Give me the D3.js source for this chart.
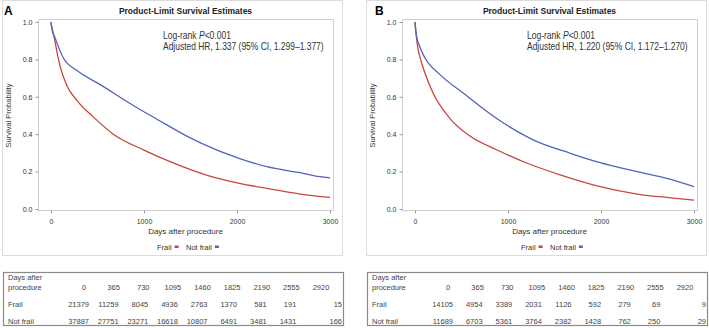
<!DOCTYPE html>
<html>
<head>
<meta charset="utf-8">
<script src="https://cdn.jsdelivr.net/npm/d3@7"></script>
<style>
  body { margin: 0; background: #fff; }
  svg { display: block; font-family: 'Liberation Sans', Arial, sans-serif; }
</style>
</head>
<body>
<div id="chart"></div>
<script>
// survival curves (day, probability)
const daysFrailA = [0, 10, 30, 60, 100, 170, 280, 460, 670, 1000, 1320, 1680, 2000, 2320, 2680, 3000]
const survFrailA = [1.0, 0.97, 0.93, 0.85, 0.76, 0.66, 0.58, 0.49, 0.40, 0.315, 0.245, 0.18, 0.14, 0.11, 0.08, 0.062]
const daysNotFrailA = [0, 10, 40, 130, 280, 530, 880, 1140, 1460, 1780, 2030, 2320, 2680, 2890, 3000]
const survNotFrailA = [1.0, 0.96, 0.92, 0.81, 0.74, 0.665, 0.555, 0.48, 0.39, 0.316, 0.27, 0.226, 0.194, 0.173, 0.166]

const daysFrailB = [0, 10, 33, 60, 105, 194, 374, 590, 877, 1200, 1560, 1990, 2390, 2750, 3000]
const survFrailB = [1.0, 0.94, 0.855, 0.8, 0.73, 0.62, 0.485, 0.39, 0.317, 0.246, 0.183, 0.12, 0.08, 0.06, 0.048]
const daysNotFrailB = [0, 15, 50, 105, 266, 518, 890, 1270, 1670, 1990, 2390, 2750, 3000]
const survNotFrailB = [1.0, 0.93, 0.87, 0.81, 0.72, 0.62, 0.48, 0.37, 0.298, 0.248, 0.2, 0.159, 0.12]

// number-at-risk table
const riskDays = [0, 365, 730, 1095, 1460, 1825, 2190, 2555, 2920]
const riskFrailA = [21379, 11259, 8045, 4936, 2763, 1370, 581, 191, 15]
const riskNotFrailA = [37887, 27751, 23271, 16618, 10807, 6491, 3481, 1431, 166]
const riskFrailB = [14105, 4954, 3389, 2031, 1126, 592, 279, 69, 9]
const riskNotFrailB = [11689, 6703, 5361, 3764, 2382, 1428, 762, 250, 29]

const xTicks = [0, 1000, 2000, 3000]
const yTicks = [0, 0.2, 0.4, 0.6, 0.8, 1.0]
const groups = ['Frail', 'Not frail']
const colors = { 'Frail': '#c8463d', 'Not frail': '#5064bf' }

const panels = [
  {
    letter: 'A', dx: 0, letterX: 4,
    hr: 'Adjusted HR, 1.337 (95% CI, 1.299\u20131.377)',
    curves: [
      { group: 'Frail', days: daysFrailA, surv: survFrailA },
      { group: 'Not frail', days: daysNotFrailA, surv: survNotFrailA },
    ],
    risk: [riskFrailA, riskNotFrailA],
  },
  {
    letter: 'B', dx: 364, letterX: 375,
    hr: 'Adjusted HR, 1.220 (95% CI, 1.172\u20131.270)',
    curves: [
      { group: 'Frail', days: daysFrailB, surv: survFrailB },
      { group: 'Not frail', days: daysNotFrailB, surv: survNotFrailB },
    ],
    risk: [riskFrailB, riskNotFrailB],
  },
]

const W = 709, H = 328
const frame = { left: 38, right: 333, top: 19, bottom: 210 }

const svg = d3.select('#chart').append('svg').attr('width', W).attr('height', H)

var x = d3.scaleLinear().domain([0, 3000]).range([51, 330])
var y = d3.scaleLinear().domain([0, 1]).range([209, 22])

// squeeze a text horizontally so it spans the given width (Calibri-like look)
function fitWidth(t, x0, y0, width) {
  const w = t.node().getComputedTextLength()
  t.attr('transform', `translate(${x0},${y0}) scale(${width / w},1)`)
}

panels.forEach(p => {
  const g = svg.append('g').attr('transform', `translate(${p.dx},0)`)

  // outer panel border
  g.append('rect')
    .attr('x', 2.5).attr('y', 0.5)
    .attr('width', 340).attr('height', 255)
    .attr('fill', 'none').attr('stroke', '#dcdcdc')

  svg.append('text')
    .attr('x', p.letterX).attr('y', 15)
    .style('font-size', '12px').style('font-weight', 700)
    .text(p.letter)

  g.append('text')
    .attr('x', (frame.left + frame.right) / 2).attr('y', 14)
    .attr('text-anchor', 'middle')
    .style('font-size', '8.5px').style('font-weight', 700).attr('fill', '#222')
    .text('Product-Limit Survival Estimates')

  // plot frame
  g.append('rect')
    .attr('x', frame.left + 0.5).attr('y', frame.top + 0.5)
    .attr('width', frame.right - frame.left).attr('height', frame.bottom - frame.top)
    .attr('fill', 'none').attr('stroke', '#cfcfcf')

  g.append('g')
    .attr('transform', `translate(${frame.left + 0.5},0)`)
    .call(d3.axisLeft(y).tickValues(yTicks).tickFormat(d3.format('.1f')).tickSize(3).tickPadding(3))
    .call(a => a.select('.domain').remove())
    .call(a => a.selectAll('.tick line').attr('stroke', '#999'))
    .call(a => a.selectAll('.tick text').attr('fill', '#333').style('font-size', '7px').attr('font-family', null))

  g.append('g')
    .attr('transform', `translate(0,${frame.bottom + 0.5})`)
    .call(d3.axisBottom(x).tickValues(xTicks).tickFormat(d3.format('d')).tickSize(3).tickPadding(6))
    .call(a => a.select('.domain').remove())
    .call(a => a.selectAll('.tick line').attr('stroke', '#999'))
    .call(a => a.selectAll('.tick text').attr('fill', '#333').style('font-size', '7px').attr('font-family', null))

  g.append('text')
    .attr('transform', `translate(11,${(y(0) + y(1)) / 2}) rotate(-90)`)
    .attr('text-anchor', 'middle')
    .style('font-size', '7.5px').attr('fill', '#333')
    .text('Survival Probability')

  g.append('text')
    .attr('x', (frame.left + frame.right) / 2).attr('y', 234)
    .attr('text-anchor', 'middle')
    .style('font-size', '8px').attr('fill', '#333')
    .text('Days after procedure')

  // legend
  const legendX = [157, 186]
  groups.forEach((grp, i) => {
    const t = g.append('text')
      .attr('x', legendX[i]).attr('y', 249.5)
      .style('font-size', '7.5px').attr('fill', '#333')
      .text(grp)
    const w = t.node().getComputedTextLength()
    g.append('rect')
      .attr('x', legendX[i] + w + 3).attr('y', 245.5)
      .attr('width', 4).attr('height', 2.5)
      .attr('fill', colors[grp])
  })

  // curves
  const line = d3.line()
    .x(d => x(d[0]))
    .y(d => y(d[1]))
    .curve(d3.curveMonotoneX)

  p.curves.forEach(c => {
    g.append('path')
      .datum(c.days.map((d, i) => [d, c.surv[i]]))
      .attr('fill', 'none')
      .attr('stroke', colors[c.group])
      .attr('stroke-width', 1.3)
      .attr('d', line)
  })

  // annotation
  const ann = g.append('text')
    .style('font-size', '10.5px').attr('fill', '#333')
  ann.append('tspan').text('Log-rank ')
  ann.append('tspan').style('font-style', 'italic').text('P')
  ann.append('tspan').text('<0.001')
  fitWidth(ann, 163, 38.5, 68)

  const hrText = g.append('text')
    .style('font-size', '10.5px').attr('fill', '#333')
    .text(p.hr)
  fitWidth(hrText, 163, 49.5, 161)

  // number at risk table
  const tb = g.append('g').attr('transform', 'translate(3,272)')
  tb.append('rect')
    .attr('x', 0.5).attr('y', 0.5)
    .attr('width', 340).attr('height', 53)
    .attr('fill', 'none').attr('stroke', '#8a8a8a').attr('stroke-width', 1.2)

  const col = d3.scalePoint().domain(riskDays).range([81, 318])
  const cellRight = (d, i) => (i === riskDays.length - 1 ? 339 : col(d) + 5)

  const rowY = [8, 17.5, 35, 52]
  const labelStyle = s => s.style('font-size', '7.5px').attr('fill', '#444')

  tb.append('text').attr('x', 5).attr('y', rowY[0]).text('Days after').call(labelStyle)
  tb.append('text').attr('x', 5).attr('y', rowY[1]).text('procedure').call(labelStyle)
  tb.append('text').attr('x', 5).attr('y', rowY[2]).text('Frail').call(labelStyle)
  tb.append('text').attr('x', 5).attr('y', rowY[3]).text('Not frail').call(labelStyle)

  tb.selectAll('.hdr')
    .data(riskDays)
    .join('text')
    .attr('class', 'hdr')
    .attr('x', d => col(d)).attr('y', rowY[1])
    .attr('text-anchor', 'middle')
    .text(d => d)
    .call(labelStyle)

  p.risk.forEach((row, r) => {
    tb.selectAll('.r' + r)
      .data(row)
      .join('text')
      .attr('class', 'r' + r)
      .attr('x', (d, i) => cellRight(riskDays[i], i))
      .attr('y', r === 0 ? rowY[2] : rowY[3])
      .attr('text-anchor', 'end')
      .text(d => d)
      .call(labelStyle)
  })
})
</script>
</body>
</html>
